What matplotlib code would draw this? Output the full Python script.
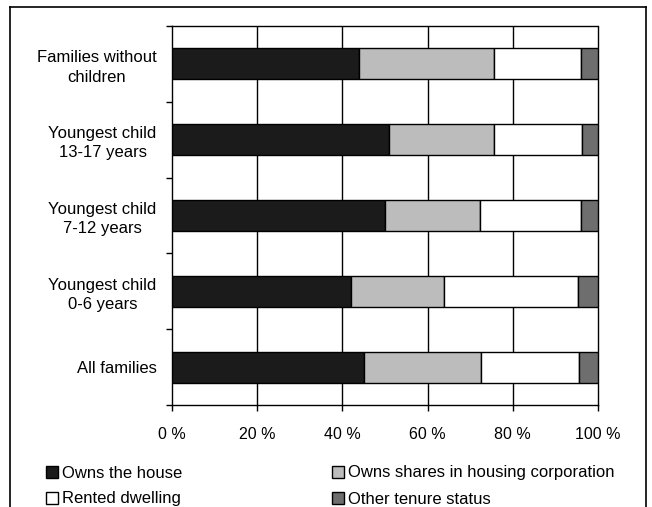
import matplotlib
matplotlib.use("Agg")
import matplotlib.pyplot as plt
from matplotlib.lines import Line2D
from matplotlib.patches import Patch

plt.rcParams['font.family'] = ['Liberation Sans', 'DejaVu Sans']

categories = ["All families",
              "Youngest child\n0-6 years",
              "Youngest child\n7-12 years",
              "Youngest child\n13-17 years",
              "Families without\nchildren"]
series_names = ["Owns the house", "Owns shares in housing corporation",
                "Rented dwelling", "Other tenure status"]
owns_house = [45.0, 42.1, 50.1, 50.9, 43.8]
owns_shares = [27.6, 21.7, 22.2, 24.8, 31.8]
rented = [22.9, 31.4, 23.6, 20.5, 20.3]
other = [4.5, 4.8, 4.1, 3.8, 4.1]
x_ticks = [0, 20, 40, 60, 80, 100]
x_tick_labels = ["0 %", "20 %", "40 %", "60 %", "80 %", "100 %"]

colors = ["#1b1b1b", "#bcbcbc", "#ffffff", "#6e6e6e"]
series = [owns_house, owns_shares, rented, other]

fig = plt.figure(figsize=(6.52, 5.07), dpi=100)
ax = fig.add_axes([172/652, 1-405/507, (598-172)/652, (405-26)/507])

ypos = list(range(len(categories)))
left = [0.0]*len(categories)
for vals, col, name in zip(series, colors, series_names):
    ax.barh(ypos, vals, left=left, height=0.41, color=col,
            edgecolor="black", linewidth=1.0, label=name, zorder=3)
    left = [l + v for l, v in zip(left, vals)]

ax.set_xlim(0, 100)
ax.set_ylim(-0.5, len(categories) - 0.5)

ax.set_xticks(x_ticks)
ax.set_xticklabels(x_tick_labels, fontsize=11.5)
ax.tick_params(axis='x', direction='out', length=4.5, width=1.0, pad=11.5, colors='black')

ax.set_yticks([i - 0.5 for i in range(len(categories) + 1)])
ax.set_yticklabels([])
ax.set_yticks(ypos, minor=True)
ax.set_yticklabels(categories, minor=True, fontsize=12, ha='right',
                   multialignment='center', linespacing=1.35)
ax.tick_params(axis='y', which='major', direction='out', length=4, width=1.0)
ax.tick_params(axis='y', which='minor', length=0, pad=11)

for xv in x_ticks[1:-1]:
    ax.axvline(xv, color='black', linewidth=1.0, zorder=1)

for s in ['left', 'bottom']:
    ax.spines[s].set_color('black')
    ax.spines[s].set_linewidth(1.0)
for s in ['right', 'top']:
    ax.spines[s].set_color('black')
    ax.spines[s].set_linewidth(1.0)
    ax.spines[s].set_linestyle((0, (2, 1)))

# outer frame
fx0, fx1, fy0 = 10/652, 646/652, 1 - 7/507
fig.add_artist(Line2D([fx0, fx0], [0, fy0], color='black', lw=1.2, transform=fig.transFigure))
fig.add_artist(Line2D([fx0, fx1], [fy0, fy0], color='black', lw=1.2, transform=fig.transFigure))
fig.add_artist(Line2D([fx1, fx1], [0, fy0], color='black', lw=1.2, transform=fig.transFigure))

handles = [Patch(facecolor=c, edgecolor='black', linewidth=1.0) for c in colors]
order = [0, 2, 1, 3]
leg = fig.legend([handles[i] for i in order], [series_names[i] for i in order],
                 ncol=2, loc='upper left', bbox_to_anchor=(46/652, 1 - 465.5/507),
                 frameon=False, fontsize=12, handlelength=0.7, handleheight=0.7,
                 handletextpad=0.25, columnspacing=9.0, labelspacing=0.66,
                 borderpad=0, borderaxespad=0)

fig.savefig("out.png", dpi=100)
